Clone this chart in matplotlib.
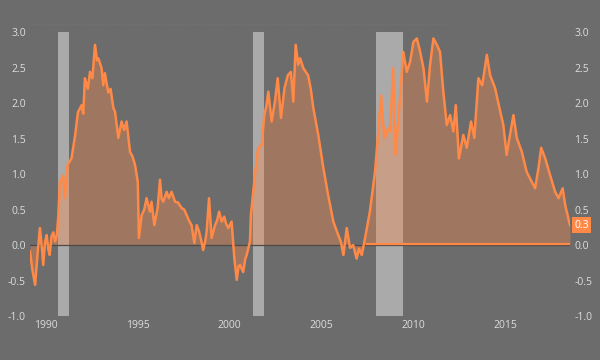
import matplotlib
matplotlib.use("Agg")
import matplotlib.pyplot as plt
from matplotlib.lines import Line2D


BG = "#6c6c6c"
ORANGE = "#ff8a47"
RECESSION = "#aaaaaa"
LABEL = "#dcdcdc"

# series (decimal year, value)
years = [
    1989.13, 1989.26, 1989.41, 1989.55, 1989.67, 1989.78, 1989.85, 1989.95,
    1990.04, 1990.12, 1990.20, 1990.30, 1990.40, 1990.50, 1990.59, 1990.67,
    1990.76, 1990.94, 1991.03, 1991.18, 1991.39, 1991.59, 1991.74, 1991.94,
    1992.03, 1992.12, 1992.28, 1992.40, 1992.53, 1992.67, 1992.78, 1992.85,
    1993.03, 1993.12, 1993.21, 1993.39, 1993.52, 1993.67, 1993.76, 1993.94,
    1994.12, 1994.26, 1994.39, 1994.58, 1994.71, 1994.85, 1995.00, 1995.06,
    1995.21, 1995.35, 1995.48, 1995.66, 1995.75, 1995.90, 1996.08, 1996.21,
    1996.30, 1996.39, 1996.57, 1996.69, 1996.84, 1997.03, 1997.19, 1997.39,
    1997.53, 1997.66, 1997.78, 1997.93, 1998.08, 1998.21, 1998.33, 1998.45,
    1998.56, 1998.67, 1998.75, 1998.88, 1999.02, 1999.21, 1999.32, 1999.43,
    1999.57, 1999.71, 1999.81, 1999.93, 2000.11, 2000.26, 2000.39, 2000.49,
    2000.57, 2000.74, 2000.85, 2000.93, 2001.11, 2001.16, 2001.38, 2001.56,
    2001.75, 2001.89, 2002.00, 2002.11, 2002.29, 2002.47, 2002.62, 2002.80,
    2002.99, 2003.17, 2003.34, 2003.47, 2003.60, 2003.74, 2003.84, 2004.02,
    2004.28, 2004.42, 2004.56, 2004.83, 2005.11, 2005.37, 2005.65, 2005.92,
    2006.06, 2006.20, 2006.38, 2006.56, 2006.73, 2006.92, 2007.05, 2007.20,
    2007.38, 2007.64, 2007.92, 2008.10, 2008.25, 2008.34, 2008.43, 2008.65,
    2008.74, 2008.91, 2009.04, 2009.28, 2009.46, 2009.65, 2009.83, 2010.01,
    2010.20, 2010.38, 2010.56, 2010.75, 2010.92, 2011.10, 2011.29, 2011.46,
    2011.64, 2011.83, 2012.01, 2012.19, 2012.32, 2012.49, 2012.73, 2012.92,
    2013.15, 2013.33, 2013.55, 2013.76, 2014.01, 2014.19, 2014.46, 2014.74,
    2014.91, 2015.09, 2015.27, 2015.46, 2015.64, 2015.92, 2016.18, 2016.46,
    2016.64, 2016.82, 2016.97, 2017.19, 2017.45, 2017.73, 2017.92, 2018.14,
    2018.28, 2018.54,
]
values = [
    -0.09, -0.35, -0.56, -0.10, 0.24, -0.05, -0.28, 0.05,
    0.14, -0.05, -0.14, 0.12, 0.18, 0.05, 0.14, 0.40,
    0.89, 0.98, 0.66, 1.13, 1.22, 1.55, 1.87, 1.97,
    1.85, 2.35, 2.20, 2.44, 2.35, 2.82, 2.60, 2.63,
    2.49, 2.25, 2.42, 2.15, 2.20, 1.93, 1.88, 1.51,
    1.74, 1.62, 1.74, 1.31, 1.25, 1.13, 0.89, 0.10,
    0.42, 0.50, 0.66, 0.47, 0.61, 0.28, 0.52, 0.92,
    0.65, 0.61, 0.75, 0.66, 0.75, 0.61, 0.60, 0.52,
    0.50, 0.42, 0.35, 0.28, 0.03, 0.28, 0.20, 0.07,
    -0.07, 0.05, 0.19, 0.66, 0.10, 0.28, 0.35, 0.47,
    0.33, 0.40, 0.30, 0.24, 0.33, -0.19, -0.49, -0.30,
    -0.28, -0.38, -0.20, -0.14, 0.05, 0.42, 0.99, 1.37,
    1.41, 1.83, 1.95, 2.16, 1.74, 2.02, 2.35, 1.79,
    2.21, 2.39, 2.44, 2.02, 2.82, 2.54, 2.63, 2.49,
    2.39, 2.20, 1.93, 1.55, 1.08, 0.70, 0.33, 0.14,
    0.05, -0.14, 0.24, -0.04, 0.00, -0.19, -0.05, -0.14,
    0.10, 0.47, 1.03, 1.60, 2.11, 1.80, 1.51, 1.65,
    1.60, 2.49, 1.27, 2.07, 2.72, 2.44, 2.58, 2.86,
    2.91, 2.72, 2.49, 2.02, 2.54, 2.91, 2.82, 2.72,
    2.16, 1.69, 1.83, 1.60, 1.97, 1.22, 1.55, 1.37,
    1.74, 1.51, 2.35, 2.25, 2.68, 2.39, 2.21, 1.88,
    1.69, 1.27, 1.55, 1.83, 1.51, 1.31, 1.03, 0.89,
    0.80, 1.08, 1.37, 1.22, 0.99, 0.75, 0.66, 0.80,
    0.56, 0.28,
]

# flat series near zero shown from late 2007
floor_years = [2007.47, 2018.54]
floor_values = [0.02, 0.02]

recessions = [(1990.65, 1991.25), (2001.25, 2001.87), (2007.97, 2009.45)]

y_ticks = [-1.0, -0.5, 0.0, 0.5, 1.0, 1.5, 2.0, 2.5, 3.0]
x_ticks = [1990, 1995, 2000, 2005, 2010, 2015]
last_label = "0.3"

plt.rcParams["font.family"] = ["Open Sans", "DejaVu Sans"]

fig = plt.figure(figsize=(6, 3.6), dpi=100, facecolor=BG)
ax = fig.add_axes([0.05, 0.122, 0.90, 0.789])
ax.set_facecolor(BG)

for start, end in recessions:
    ax.axvspan(start, end, color=RECESSION, lw=0, zorder=1)

ax.fill_between(years, values, 0, color=ORANGE, alpha=0.35, lw=0, zorder=2)
ax.axhline(0, color="#4e4a48", lw=0.9, zorder=2.5)
ax.plot(floor_years, floor_values, color=ORANGE, lw=1.6, zorder=3)
ax.plot(years, values, color=ORANGE, lw=1.8, zorder=4)

ax.set_xlim(years[0], years[-1])
ax.set_ylim(-1.0, 3.0)
ax.set_yticks(y_ticks)
ax.set_yticklabels([f"{v:.1f}" for v in y_ticks])
ax.set_xticks(x_ticks)
ax.tick_params(length=0, colors=LABEL, labelsize=7.5, pad=3,
               labelleft=True, labelright=True)
for spine in ax.spines.values():
    spine.set_visible(False)

ax.annotate(last_label, xy=(1.0, values[-1]), xycoords=("axes fraction", "data"),
            xytext=(3, 0), textcoords="offset points", ha="left", va="center",
            color="white", fontsize=7.5,
            bbox=dict(boxstyle="square,pad=0.25", fc=ORANGE, ec="none"))

fig.add_artist(Line2D([0.05, 0.75], [1 - 24 / 360, 1 - 24 / 360],
                      transform=fig.transFigure, color="#767676", lw=0.6,
                      linestyle=(0, (1, 2))))

fig.savefig("out.png", dpi=100, facecolor=BG)
